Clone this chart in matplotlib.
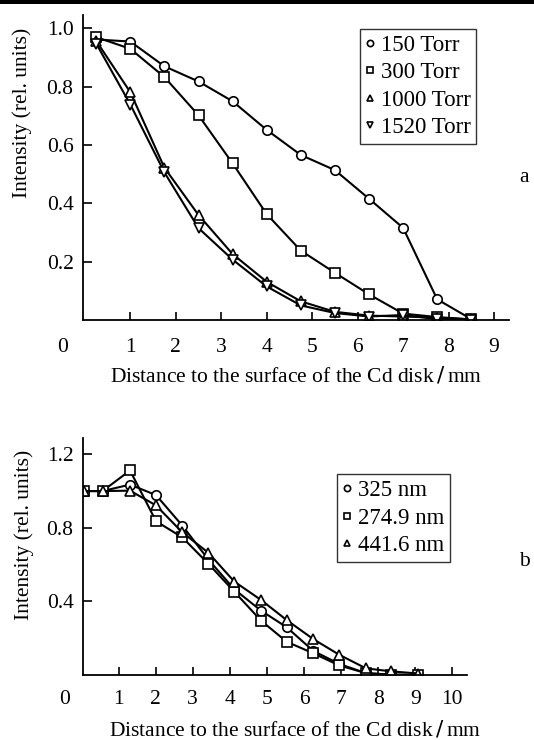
import matplotlib
matplotlib.use("Agg")
import matplotlib.pyplot as plt
from matplotlib.lines import Line2D
from matplotlib.patches import Rectangle

plt.rcParams['font.family'] = ['Liberation Serif', 'DejaVu Serif']

# ---- Panel a data ----
top_x = [0.25, 1.0, 1.75, 2.5, 3.25, 4.0, 4.75, 5.5, 6.25, 7.0, 7.75, 8.5]
p150 = [0.962, 0.955, 0.870, 0.818, 0.750, 0.652, 0.566, 0.514, 0.416, 0.316, 0.071, 0.003]
p300 = [0.970, 0.930, 0.833, 0.702, 0.537, 0.363, 0.238, 0.162, 0.088, 0.022, 0.010, 0.002]
p1000 = [0.957, 0.781, 0.522, 0.360, 0.226, 0.131, 0.064, 0.028, 0.015, 0.012, 0.008, 0.002]
p1520 = [0.948, 0.739, 0.506, 0.315, 0.207, 0.115, 0.050, 0.024, 0.012, 0.017, 0.003, 0.001]
top_labels = ['150 Torr', '300 Torr', '1000 Torr', '1520 Torr']
top_markers = ['o', 's', '^', 'v']
top_xticks = [1, 2, 3, 4, 5, 6, 7, 8, 9]
top_yticks = [0.2, 0.4, 0.6, 0.8, 1.0]

# ---- Panel b data ----
bot_x = [0.07, 0.57, 1.31, 2.01, 2.72, 3.42, 4.12, 4.84, 5.53, 6.25, 6.95, 7.67, 8.34, 9.08]
b325 = [1.0, 1.0, 1.035, 0.978, 0.812, 0.628, 0.466, 0.350, 0.260, 0.131, 0.060, 0.010, 0.002, 0.0]
b2749 = [1.0, 1.0, 1.112, 0.836, 0.748, 0.605, 0.453, 0.296, 0.181, 0.118, 0.052, 0.010, 0.002, 0.0]
b4416 = [1.0, 1.0, 1.002, 0.922, 0.775, 0.665, 0.508, 0.408, 0.299, 0.195, 0.110, 0.036, 0.020, 0.008]
bot_labels = ['325 nm', '274.9 nm', '441.6 nm']
bot_markers = ['o', 's', '^']
bot_xticks = [1, 2, 3, 4, 5, 6, 7, 8, 9, 10]
bot_yticks = [0.4, 0.8, 1.2]

xlabel = 'Distance to the surface of the Cd disk$\\,/\\,$mm'
ylabel = 'Intensity (rel. units)'

FS = 15.5
LFS = 16.5
W, H = 534, 740
fig = plt.figure(figsize=(W / 100, H / 100), dpi=100)

def px_rect(x0, y0, x1, y1):
    return [x0 / W, 1 - y1 / H, (x1 - x0) / W, (y1 - y0) / H]

def style(ax, xpad):
    for s in ['top', 'right']:
        ax.spines[s].set_visible(False)
    for s in ['left', 'bottom']:
        ax.spines[s].set_linewidth(1.3)
    ax.tick_params(axis='x', direction='in', length=5.5, width=1.2, labelsize=FS, pad=xpad)
    ax.tick_params(axis='y', direction='in', length=6.5, width=1.2, labelsize=FS, pad=7)

mk = dict(color='black', lw=1.5, mfc='white', mec='black', mew=1.2, ms=6.8)
legkw = dict(loc='upper left', frameon=True, fancybox=False, edgecolor='black',
             fontsize=LFS, handlelength=0.35, handletextpad=0.3, borderpad=0.25,
             labelspacing=0.28, borderaxespad=0)

# Panel a
ax1 = fig.add_axes(px_rect(83.3, 15, 509, 320))
for y, m in zip([p150, p300, p1000, p1520], top_markers):
    ax1.plot(top_x, y, marker=m, **mk)
ax1.set_xlim(-0.035, 9.33)
ax1.set_ylim(0, 1.046)
ax1.set_xticks(top_xticks)
ax1.set_xticklabels([str(t) for t in top_xticks])
ax1.set_yticks(top_yticks)
ax1.set_yticklabels(['%.1f' % t for t in top_yticks])
style(ax1, 13)
ax1.set_xlabel(xlabel, fontsize=FS)
ax1.xaxis.set_label_coords(0.5, -0.15)
ax1.set_ylabel(ylabel, fontsize=FS)
ax1.yaxis.set_label_coords(-0.12, 0.68)
h1 = [Line2D([], [], marker=m, ls='none', ms=4.5, mfc='white', mec='black', mew=1.2)
      for m in top_markers]
leg1 = fig.legend(h1, top_labels, bbox_to_anchor=(360 / W, 1 - 29 / H), **legkw)
leg1.get_frame().set_linewidth(1.0)
fig.text(63 / W, 1 - 347 / H, '0', ha='center', va='center', fontsize=FS)
fig.text(519 / W, 1 - 177 / H, 'a', ha='left', va='center', fontsize=FS)

# Panel b
ax2 = fig.add_axes(px_rect(83.3, 437.7, 466.5, 675))
for y, m in zip([b325, b2749, b4416], bot_markers):
    ax2.plot(bot_x, y, marker=m, **mk)
ax2.set_xlim(0.05, 10.38)
ax2.set_ylim(0, 1.29)
ax2.set_xticks(bot_xticks)
ax2.set_xticklabels([str(t) for t in bot_xticks])
ax2.set_yticks(bot_yticks)
ax2.set_yticklabels(['%.1f' % t for t in bot_yticks])
style(ax2, 11)
ax2.set_xlabel(xlabel, fontsize=FS)
ax2.xaxis.set_label_coords(0.554, -0.188)
ax2.set_ylabel(ylabel, fontsize=FS)
ax2.yaxis.set_label_coords(-0.129, 0.59)
h2 = [Line2D([], [], marker=m, ls='none', ms=4.5, mfc='white', mec='black', mew=1.2)
      for m in bot_markers]
leg2 = fig.legend(h2, bot_labels, bbox_to_anchor=(337 / W, 1 - 474.5 / H), **legkw)
leg2.get_frame().set_linewidth(1.0)
fig.text(64.7 / W, 1 - 699.5 / H, '0', ha='center', va='center', fontsize=FS)
fig.text(519 / W, 1 - 561 / H, 'b', ha='left', va='center', fontsize=FS)

fig.add_artist(Rectangle((0, 1 - 3.5 / H), 1, 3.5 / H, transform=fig.transFigure,
                         color='black', lw=0))

fig.savefig('out.png', dpi=100)
